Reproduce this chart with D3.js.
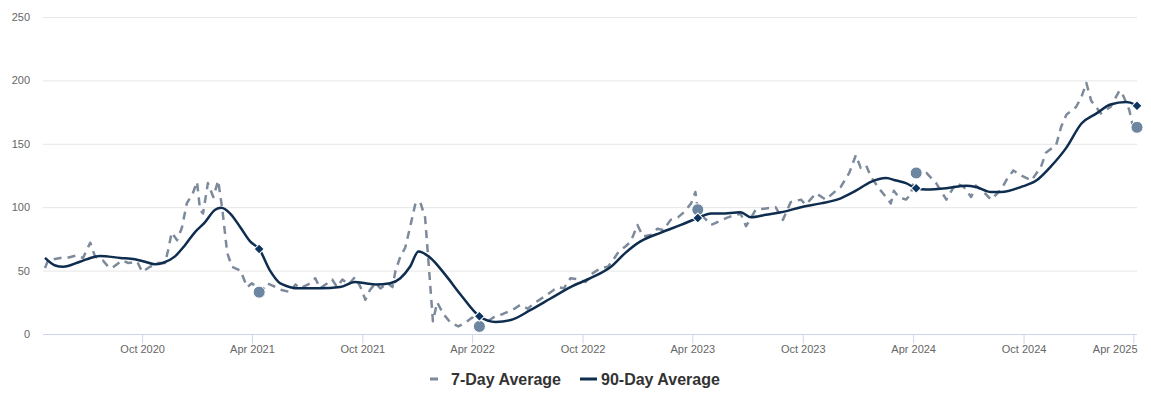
<!DOCTYPE html>
<html>
<head>
<meta charset="utf-8">
<script src="https://cdn.jsdelivr.net/npm/d3@7"></script>
<style>
  body { margin: 0; background: #fff; font-family: "Liberation Sans", Arial, sans-serif; }
  .axis text { fill: #666; font-size: 11px; }
</style>
</head>
<body>
<div id="chart"></div>
<script>
// 7-day average
const sevenDayDates = [
  "2020-04-23","2020-04-28","2020-05-18","2020-05-29","2020-06-15","2020-06-25","2020-07-07","2020-07-15",
  "2020-07-28","2020-08-06","2020-08-12","2020-08-29","2020-09-08","2020-09-23","2020-10-01","2020-10-14",
  "2020-10-26","2020-11-08","2020-11-13","2020-11-19","2020-11-28","2020-12-06","2020-12-14","2020-12-24",
  "2020-12-31","2021-01-05","2021-01-10","2021-01-18","2021-01-27","2021-02-04","2021-02-11","2021-02-19",
  "2021-02-27","2021-03-13","2021-03-24","2021-04-01","2021-04-10","2021-04-18","2021-04-26","2021-05-06",
  "2021-05-18","2021-06-04","2021-06-12","2021-06-20","2021-07-07","2021-07-15","2021-07-23","2021-08-04",
  "2021-08-12","2021-08-20","2021-08-29","2021-09-08","2021-09-19","2021-09-28","2021-10-06","2021-10-14",
  "2021-10-23","2021-10-31","2021-11-12","2021-11-20","2021-11-25","2021-12-03","2021-12-11","2021-12-19",
  "2021-12-28","2022-01-05","2022-01-13","2022-01-18","2022-01-26","2022-02-02","2022-02-12","2022-02-24",
  "2022-03-09","2022-03-21","2022-04-01","2022-04-13","2022-04-26","2022-05-06","2022-05-23","2022-06-07",
  "2022-06-20","2022-07-02","2022-07-15","2022-07-28","2022-08-09","2022-08-21","2022-08-31","2022-09-11",
  "2022-09-25","2022-10-06","2022-10-18","2022-10-31","2022-11-12","2022-11-20","2022-11-30","2022-12-11",
  "2022-12-20","2022-12-31","2023-01-09","2023-01-22","2023-02-02","2023-02-12","2023-02-24","2023-03-08",
  "2023-03-18","2023-03-30","2023-04-06","2023-04-10","2023-04-20","2023-05-02","2023-05-07","2023-05-30",
  "2023-06-20","2023-06-29","2023-07-15","2023-08-01","2023-08-17","2023-08-29","2023-09-11","2023-09-28",
  "2023-10-06","2023-10-23","2023-11-08","2023-11-25","2023-12-03","2023-12-17","2023-12-28","2024-01-05",
  "2024-01-14","2024-01-22","2024-02-04","2024-02-16","2024-02-24","2024-02-29","2024-03-08","2024-03-20",
  "2024-03-28","2024-04-01","2024-04-08","2024-04-23","2024-05-09","2024-05-26","2024-06-11","2024-06-24",
  "2024-07-06","2024-07-14","2024-07-31","2024-08-08","2024-08-25","2024-09-02","2024-09-14","2024-09-27",
  "2024-10-14","2024-10-30","2024-11-07","2024-11-24","2024-12-02","2024-12-11","2024-12-27","2025-01-05",
  "2025-01-13","2025-01-21","2025-02-06","2025-02-22","2025-03-09","2025-03-15","2025-03-25","2025-04-03",
  "2025-04-07"
];
const sevenDayValues = [
  52,58,60,60,62,60,72,61,
  58,53,52,58,56,57,49,53,
  56,56,66,80,74,84,103,111,
  120,98,95,119,108,121,98,64,
  53,50,37,40,36,34,40,38,
  35,33,39,36,40,44,36,40,
  43,37,43,39,45,37,27,35,
  40,36,40,37,50,61,68,84,
  103,104,92,61,10,25,16,9,
  6,9,13,6,9.5,13,16,19,
  23,20,25,29,33,37,36,44,
  43,41,48,52,53,58,65,69,
  73,86,77,78,83,82,90,92,
  96,103,112,98,92,86,87,92,
  95,85,98,99,100,90,104,106,
  102,111,106,113,116,127,141,131,
  133,124,115,108,103,113,108,106,
  110,118,127,127,119,106,119,116,
  108,117,110,106,114,121,129,125,
  121,132,143,149,163,173,179,187,
  198,184,174,179,192,188,177,158,
  163
];

// 90-day average
const ninetyDayDates = [
  "2020-04-23","2020-05-10","2020-05-23","2020-06-20","2020-07-15","2020-07-23","2020-08-26","2020-09-19",
  "2020-10-06","2020-10-22","2020-11-04","2020-11-24","2020-12-11","2020-12-27","2021-01-13","2021-01-30",
  "2021-02-09","2021-02-24","2021-03-13","2021-03-29","2021-04-13","2021-05-01","2021-05-18","2021-06-20",
  "2021-07-23","2021-08-25","2021-09-19","2021-10-06","2021-10-23","2021-11-16","2021-12-03","2021-12-19",
  "2022-01-02","2022-01-22","2022-02-15","2022-03-13","2022-04-13","2022-05-10","2022-06-04","2022-07-07",
  "2022-08-09","2022-09-11","2022-10-14","2022-11-17","2022-12-11","2023-01-05","2023-02-08","2023-03-13",
  "2023-04-10","2023-05-02","2023-05-18","2023-06-20","2023-07-07","2023-08-01","2023-08-26","2023-09-28",
  "2023-10-31","2023-12-03","2023-12-28","2024-01-22","2024-02-16","2024-03-04","2024-03-20","2024-04-06",
  "2024-04-23","2024-05-26","2024-06-28","2024-07-14","2024-08-08","2024-08-25","2024-09-27","2024-10-22",
  "2024-11-15","2024-12-11","2025-01-05","2025-01-30","2025-02-22","2025-03-20","2025-04-03","2025-04-07"
];
const ninetyDayValues = [
  60,54,53,57,61,61.5,60,59,
  57,55,56,61,70,80,88,98,
  99.5,95,84,73,67,50,40,36,
  36,37,41,40,39,40,44,53,
  65,60,47,31,14,9.5,11,19,
  28,37,44,53,64,73,80,86,
  91.5,95,95,96,92,94,96,100,
  103,107,113,120,123,121,119,115,
  114,115,117,116,112,112,116,121,
  132,147,166,174,181,183,181,179
];

// year-over-year markers
const markerDates = ["2021-04-13","2022-04-13","2023-04-10","2024-04-06","2025-04-07"];
const markerSevenDay = [33, 6, 98, 127, 163];
const markerNinetyDay = [67, 14, 91.5, 115, 180];

const yTicks = [0, 50, 100, 150, 200, 250];
const xTickDates = ["2020-10-01","2021-04-01","2021-10-01","2022-04-01","2022-10-01",
                    "2023-04-01","2023-10-01","2024-04-01","2024-10-01","2025-04-01"];
const seriesNames = ["7-Day Average", "90-Day Average"];

const width = 1151, height = 396;
const margin = { top: 17, right: 14, bottom: 62, left: 45 };
const parse = d3.timeParse("%Y-%m-%d");
const fmt = d3.timeFormat("%b %Y");

const sevenDay = sevenDayDates.map((d, i) => ({ date: parse(d), value: sevenDayValues[i] }));
const ninetyDay = ninetyDayDates.map((d, i) => ({ date: parse(d), value: ninetyDayValues[i] }));
const markers = markerDates.map((d, i) => ({ date: parse(d), seven: markerSevenDay[i], ninety: markerNinetyDay[i] }));

const svg = d3.select("#chart").append("svg")
  .attr("width", width)
  .attr("height", height);

const x = d3.scaleTime()
  .domain([parse("2020-04-23"), parse("2025-04-07")])
  .range([margin.left, width - margin.right]);
const y = d3.scaleLinear()
  .domain([0, 250])
  .range([height - margin.bottom, margin.top]);

// grid lines
svg.append("g")
  .selectAll("line")
  .data(yTicks)
  .join("line")
  .attr("x1", margin.left - 2)
  .attr("x2", width - margin.right)
  .attr("y1", d => y(d) + 0.5)
  .attr("y2", d => y(d) + 0.5)
  .attr("stroke", d => d === 0 ? "#ccd6eb" : "#e6e6e6")
  .attr("stroke-width", 1);

// y axis labels
const yAxis = d3.axisLeft(y).tickValues(yTicks).tickSize(0).tickPadding(0);
svg.append("g")
  .attr("class", "axis")
  .attr("transform", "translate(30,0)")
  .call(yAxis)
  .call(g => g.select(".domain").remove());

// x axis
const xAxis = d3.axisBottom(x)
  .tickValues(xTickDates.map(parse))
  .tickFormat(fmt)
  .tickSize(9)
  .tickPadding(4);
svg.append("g")
  .attr("class", "axis")
  .attr("transform", "translate(0," + (height - margin.bottom + 0.5) + ")")
  .call(xAxis)
  .call(g => g.select(".domain").remove())
  .call(g => g.selectAll(".tick line").attr("stroke", "#ccd6eb"))
  .call(g => g.selectAll(".tick text").attr("dy", "0.5em"))
  // keep the last label inside the plot, like the original does
  .call(g => g.selectAll(".tick text").filter((d, i, n) => i === n.length - 1)
    .attr("text-anchor", "end")
    .attr("dx", (width - margin.right) - x(parse(xTickDates[xTickDates.length - 1]))));

// 7-day dashed line
svg.append("path")
  .datum(sevenDay)
  .attr("fill", "none")
  .attr("stroke", "#7d8a9b")
  .attr("stroke-width", 2.5)
  .attr("stroke-dasharray", "8,6")
  .attr("stroke-linejoin", "round")
  .attr("d", d3.line().x(d => x(d.date)).y(d => y(d.value)));

// 90-day smooth line
svg.append("path")
  .datum(ninetyDay)
  .attr("fill", "none")
  .attr("stroke", "#0e2d4f")
  .attr("stroke-width", 2.5)
  .attr("d", d3.line().curve(d3.curveMonotoneX).x(d => x(d.date)).y(d => y(d.value)));

// markers
svg.append("g")
  .selectAll("circle")
  .data(markers)
  .join("circle")
  .attr("cx", d => x(d.date))
  .attr("cy", d => y(d.seven))
  .attr("r", 6)
  .attr("fill", "#6c86a2")
  .attr("stroke", "#fff")
  .attr("stroke-width", 1);

svg.append("g")
  .selectAll("path")
  .data(markers)
  .join("path")
  .attr("d", d3.symbol().type(d3.symbolSquare).size(50))
  .attr("transform", d => "translate(" + x(d.date) + "," + y(d.ninety) + ") rotate(45)")
  .attr("fill", "#0e3560")
  .attr("stroke", "#fff")
  .attr("stroke-width", 1);

// legend
const legend = svg.append("g").attr("transform", "translate(0,379)");
legend.append("line")
  .attr("x1", 430).attr("x2", 438).attr("y1", 0).attr("y2", 0)
  .attr("stroke", "#7d8a9b").attr("stroke-width", 3);
legend.append("text")
  .attr("x", 451).attr("y", 0).attr("dy", "0.35em")
  .attr("font-size", 16).attr("font-weight", "bold").attr("fill", "#333")
  .text(seriesNames[0]);
legend.append("line")
  .attr("x1", 580).attr("x2", 597).attr("y1", 0).attr("y2", 0)
  .attr("stroke", "#0e2d4f").attr("stroke-width", 3);
legend.append("text")
  .attr("x", 601).attr("y", 0).attr("dy", "0.35em")
  .attr("font-size", 16).attr("font-weight", "bold").attr("fill", "#333")
  .text(seriesNames[1]);
</script>
</body>
</html>
